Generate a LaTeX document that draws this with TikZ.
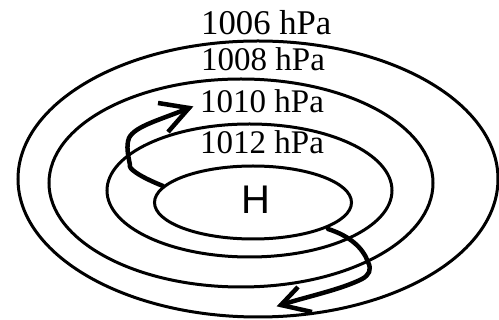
\documentclass[tikz,border=0pt]{standalone}
\usepackage{fontspec}
\setmainfont{Liberation Serif}
\newfontfamily\hsans{Liberation Sans}
\begin{document}
\begin{tikzpicture}[x=1pt,y=-1pt,
  isobar/.style={line width=3pt},
  flow/.style={line width=4.5pt,line join=round,line cap=round},
  barb/.style={line width=4.5pt,line join=miter,line cap=butt},
  lbl/.style={anchor=base west,inner sep=0pt,font=\fontsize{33}{33}\selectfont}]
\useasboundingbox (0,0) rectangle (499,320);
% isobars
\draw[isobar] (258,179) ellipse [x radius=240, y radius=138];
\draw[isobar] (241,183) ellipse [x radius=192, y radius=104];
\draw[isobar] (249.5,190.5) ellipse [x radius=142.5, y radius=66.5];
\draw[isobar] (253,202.5) ellipse [x radius=98.5, y radius=36.5];
% labels
\node[lbl,font=\fontsize{34.7}{34.7}\selectfont] (p1006) at (201,35) {1006 hPa};
\node[lbl] (p1008) at (201,71) {1008 hPa};
\node[lbl] (p1010) at (200,113) {1010 hPa};
\node[lbl] (p1012) at (200,154) {1012 hPa};
\node[inner sep=0pt,font=\hsans\fontsize{40}{40}\selectfont] (H) at (256,199.5) {H};
% upper flow arrow
\coordinate (a0) at (163,186);
\coordinate (a1) at (130,165);
\coordinate (a2) at (129,138);
\coordinate (at) at (189,108);
\coordinate (ab1) at (158,103);
\coordinate (ab2) at (168,132);
\draw[flow] (a0) .. controls (138,176) and (128,168) .. (a1)
  .. controls (128,155) and (126,146) .. (a2)
  .. controls (135,126) and (160,120) .. (at);
\draw[barb] (ab1) -- (at) -- (ab2);
% lower flow arrow
\coordinate (b0) at (328,229);
\coordinate (b1) at (368,262);
\coordinate (b2) at (362,279);
\coordinate (bt) at (281,305);
\coordinate (bb1) at (298,287);
\coordinate (bb2) at (312,312);
\draw[flow] (b0) .. controls (350,236) and (363,248) .. (b1)
  .. controls (372,270) and (369,275) .. (b2)
  .. controls (340,290) and (305,297) .. (bt);
\draw[barb] (bb1) -- (bt) -- (bb2);
\end{tikzpicture}
\end{document}
